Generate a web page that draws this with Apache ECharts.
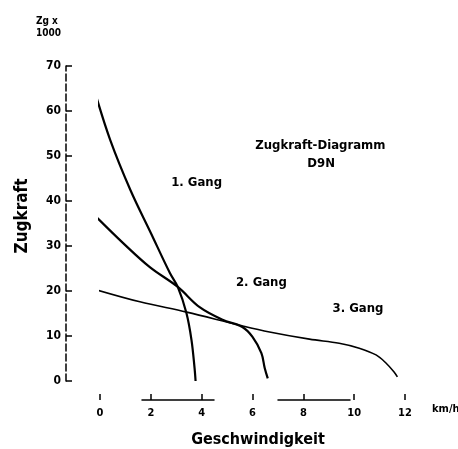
<!DOCTYPE html>
<html>
<head>
<meta charset="utf-8">
<script src="https://cdn.jsdelivr.net/npm/echarts@6/dist/echarts.min.js"></script>
<style>
  html, body { margin: 0; padding: 0; background: #fff; }
  #chart { width: 458px; height: 449px; }
</style>
</head>
<body>
<div id="chart"></div>
<script>
// Zugkraft (t x 1000) over Geschwindigkeit (km/h)
var gang1 = [[-0.2, 64.2], [0.4, 53.6], [1.2, 42.4], [2.0, 32.9], [2.75, 24.0], [3.06, 20.9],
             [3.4, 15.1], [3.6, 9.1], [3.72, 2.9], [3.76, 0]];
var gang2 = [[-0.1, 36.2], [0.9, 30.7], [1.96, 25.3], [3.06, 20.9], [3.92, 16.4], [4.82, 13.6],
             [5.6, 12.0], [6.0, 9.8], [6.35, 6.2], [6.48, 2.9], [6.6, 0.6]];
var gang3 = [[-0.1, 20.2], [1.57, 17.6], [3.41, 15.3], [5.5, 12.4], [6.67, 10.9], [8.24, 9.3],
             [9.41, 8.4], [10.2, 7.3], [10.86, 5.8], [11.25, 4.0], [11.57, 2.0], [11.7, 0.9]];

var xTicks = [0, 2, 4, 6, 8, 10, 12];
var yTicks = [0, 10, 20, 30, 40, 50, 60, 70];

var gangLabels = [
  { name: '1. Gang', value: [3.8, 44] },
  { name: '2. Gang', value: [6.35, 21.8] },
  { name: '3. Gang', value: [10.15, 16] }
];
var diagramLabels = [
  { name: 'Zugkraft-Diagramm', value: [8.67, 52.4] },
  { name: 'D9N', value: [8.7, 48.4] }
];

var font = 'DejaVu Sans Condensed';

var chart = echarts.init(document.getElementById('chart'));

function curve(data, width) {
  return {
    type: 'line',
    data: data,
    smooth: 0.35,
    symbol: 'none',
    clip: false,
    lineStyle: { color: '#000', width: width },
    z: 3
  };
}

function textMarks(data) {
  return {
    type: 'scatter',
    data: data,
    symbolSize: 0,
    itemStyle: { opacity: 1 },
    label: {
      show: true, position: 'inside', formatter: '{b}', opacity: 1,
      color: '#000', fontFamily: font, fontWeight: 'bold', fontSize: 13
    },
    z: 4
  };
}

var option = {
  animation: false,
  backgroundColor: '#fff',
  grid: { left: 100, right: 53, top: 66, bottom: 68 },
  xAxis: {
    type: 'value',
    min: xTicks[0],
    max: xTicks[xTicks.length - 1],
    interval: 2,
    offset: 19,
    axisLine: { onZero: false, lineStyle: { color: '#000', width: 1.5, type: [72, 64], dashOffset: 94 } },
    axisTick: { inside: true, length: 6, lineStyle: { color: '#000', width: 1.5 } },
    axisLabel: { color: '#000', fontFamily: font, fontWeight: 'bold', fontSize: 11, margin: 8 },
    splitLine: { show: false }
  },
  yAxis: {
    type: 'value',
    min: yTicks[0],
    max: yTicks[yTicks.length - 1],
    interval: 10,
    offset: 34,
    axisLine: { show: true, onZero: false, lineStyle: { color: '#000', width: 1.5, type: [7, 3] } },
    axisTick: { show: true, inside: true, length: 6, lineStyle: { color: '#000', width: 1.5 } },
    axisLabel: { color: '#000', fontFamily: font, fontWeight: 'bold', fontSize: 12, margin: 5 },
    splitLine: { show: false }
  },
  series: [
    curve(gang1, 2.2),
    curve(gang2, 2.2),
    curve(gang3, 1.6),
    textMarks(gangLabels),
    textMarks(diagramLabels)
  ],
  graphic: [
    { type: 'text', left: 36, top: 15, style: { text: 'Zg x\n1000', fill: '#000', font: 'bold 10px "' + font + '"', lineHeight: 12, align: 'center' } },
    { type: 'text', left: 432, top: 404, style: { text: 'km/h', fill: '#000', font: 'bold 11px "' + font + '"' } },
    { type: 'text', x: 258, y: 440, style: { text: 'Geschwindigkeit', fill: '#000', font: 'bold 16px "' + font + '"', align: 'center', verticalAlign: 'middle' } },
    { type: 'text', x: 23, y: 216, rotation: Math.PI / 2, style: { text: 'Zugkraft', fill: '#000', font: 'bold 17px "' + font + '"', align: 'center', verticalAlign: 'middle' } }
  ]
};

chart.setOption(option);
</script>
</body>
</html>
